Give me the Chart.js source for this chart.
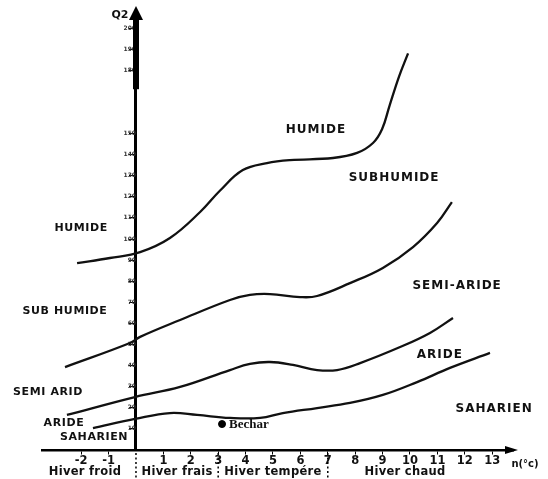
<!DOCTYPE html>
<html lang="fr">
<head>
<meta charset="UTF-8">
<title>Climagramme d'Emberger</title>
<script src="https://cdn.jsdelivr.net/npm/chart.js@4.4.1/dist/chart.umd.min.js"></script>
<style>
  html, body { margin: 0; padding: 0; background: #fff; }
  #wrap { width: 548px; height: 479px; position: relative; }
</style>
</head>
<body>
<div id="wrap"><canvas id="canvas"></canvas></div>
<script>
// limites des etages bioclimatiques : m (°C) -> Q2
const humideM = [-2.15, -0.95, 0.15, 1.24, 2.34, 3.07, 3.9, 4.78, 5.62, 7.19, 8.07, 8.65, 8.98, 9.25, 9.6, 9.93];
const humideQ = [88.6, 91, 93.8, 100.5, 112.8, 123, 132.7, 136, 137.4, 138.4, 140.8, 145.5, 152, 163, 177, 188];

const subhumideM = [-2.59, -0.22, 0.15, 1.61, 3.43, 4.16, 4.89, 5.99, 6.61, 7.81, 9.01, 10.11, 10.99, 11.53];
const subhumideQ = [39.3, 50.7, 53.6, 61.6, 71.1, 73.5, 73.9, 72.5, 73, 79.1, 86.3, 96.2, 107.6, 117.5];

const semiarideM = [-2.52, -0.04, 1.61, 3.43, 4.16, 4.89, 5.73, 6.61, 7.34, 8.18, 9.64, 10.73, 11.57];
const semiarideQ = [16.6, 25.1, 29.9, 37.9, 40.8, 41.7, 40.3, 37.9, 37.9, 41.2, 48.8, 55.5, 62.6];

const arideM = [-1.57, -0.04, 1.24, 2.23, 3.43, 4.53, 5.36, 6.61, 7.81, 9.01, 10.26, 11.46, 12.92];
const arideQ = [10.4, 14.7, 17.5, 16.6, 15.2, 15.2, 17.5, 19.9, 22.3, 26.1, 32.2, 38.9, 46];

// station
const stationName = ['Bechar'];
const stationM = [3.14];
const stationQ = [12.3];

// graduations
const xTicks = [-2, -1, 1, 2, 3, 4, 5, 6, 7, 8, 9, 10, 11, 12, 13];
const qTicks = [10, 20, 30, 40, 50, 60, 70, 80, 90, 100, 110, 120, 130, 140, 150, 180, 190, 200];

// noms des etages, places en (m, Q2)
const zoneNames = ['HUMIDE', 'SUBHUMIDE', 'SEMI-ARIDE', 'ARIDE', 'SAHARIEN'];
const zoneM = [6.57, 9.42, 11.72, 11.09, 13.07];
const zoneQ = [151.7, 128.9, 77.7, 45, 19.4];

const sideNames = ['HUMIDE', 'SUB HUMIDE', 'SEMI ARID', 'ARIDE', 'SAHARIEN'];
const sideM = [-2.0, -2.59, -3.21, -2.63, -1.53];
const sideQ = [105.2, 65.9, 27.5, 12.8, 6.2];

const winterNames = ['Hiver froid', 'Hiver frais', 'Hiver tempére', 'Hiver chaud'];
const winterM = [-1.86, 1.5, 5.0, 9.82];
const winterLimits = [0, 3, 7];

function pts(xs, ys) {
    return xs.map((v, i) => ({ x: v, y: ys[i] }));
}

function curve(xs, ys) {
    return {
        type: 'line',
        data: pts(xs, ys),
        borderColor: '#111',
        borderWidth: 2.3,
        pointRadius: 0,
        fill: false,
        tension: 0.4
    };
}

const decor = {
    id: 'decor',
    afterDraw(chart) {
        const ctx = chart.ctx;
        const xs = chart.scales.x, ys = chart.scales.y;
        const x0 = xs.getPixelForValue(0);
        const y0 = ys.getPixelForValue(0);
        const top = chart.chartArea.top;
        const right = chart.chartArea.right;
        ctx.save();
        ctx.fillStyle = '#000';
        ctx.strokeStyle = '#000';

        // partie epaisse de l'axe Q2
        ctx.lineWidth = 6;
        ctx.beginPath();
        ctx.moveTo(x0, top + 4);
        ctx.lineTo(x0, ys.getPixelForValue(171));
        ctx.stroke();

        // fleches
        ctx.beginPath();
        ctx.moveTo(x0, top - 6);
        ctx.lineTo(x0 - 7, top + 8);
        ctx.lineTo(x0 + 7, top + 8);
        ctx.closePath();
        ctx.fill();
        ctx.beginPath();
        ctx.moveTo(right + 5, y0);
        ctx.lineTo(right - 8, y0 - 4);
        ctx.lineTo(right - 8, y0 + 4);
        ctx.closePath();
        ctx.fill();

        // separations des types d'hiver
        ctx.lineWidth = 1.5;
        ctx.setLineDash([2, 2.5]);
        winterLimits.forEach(v => {
            const px = xs.getPixelForValue(v);
            ctx.beginPath();
            ctx.moveTo(px, y0 + 3);
            ctx.lineTo(px, chart.height);
            ctx.stroke();
        });
        ctx.setLineDash([]);

        ctx.fillStyle = '#111';
        ctx.textAlign = 'center';
        ctx.textBaseline = 'middle';
        ctx.letterSpacing = '1px';
        ctx.font = 'bold 12px "DejaVu Sans"';
        zoneNames.forEach((t, i) => {
            ctx.fillText(t, xs.getPixelForValue(zoneM[i]), ys.getPixelForValue(zoneQ[i]));
        });
        ctx.font = 'bold 11px "DejaVu Sans"';
        ctx.letterSpacing = '0.6px';
        sideNames.forEach((t, i) => {
            ctx.fillText(t, xs.getPixelForValue(sideM[i]), ys.getPixelForValue(sideQ[i]));
        });
        ctx.font = 'bold 11.5px "DejaVu Sans"';
        ctx.letterSpacing = '0.3px';
        winterNames.forEach((t, i) => {
            ctx.fillText(t, xs.getPixelForValue(winterM[i]), y0 + 22);
        });
        ctx.letterSpacing = '0px';
        ctx.font = 'bold 11px "DejaVu Sans"';
        ctx.fillText('Q2', x0 - 16, top + 3);
        ctx.font = 'bold 10px "DejaVu Sans"';
        ctx.fillText('n(°c)', right + 12, y0 + 14);

        ctx.textAlign = 'left';
        ctx.font = 'bold 13px "Liberation Serif"';
        stationName.forEach((t, i) => {
            ctx.fillText(t, xs.getPixelForValue(stationM[i]) + 7, ys.getPixelForValue(stationQ[i]) + 1);
        });
        ctx.restore();
    }
};

const ctx = document.getElementById('canvas').getContext('2d');
const chart = new Chart(ctx, {
    type: 'scatter',
    data: {
        datasets: [
            curve(humideM, humideQ),
            curve(subhumideM, subhumideQ),
            curve(semiarideM, semiarideQ),
            curve(arideM, arideQ),
            {
                type: 'scatter',
                data: pts(stationM, stationQ),
                backgroundColor: '#000',
                borderColor: '#000',
                pointRadius: 3.5
            }
        ]
    },
    options: {
        responsive: true,
        maintainAspectRatio: false,
        animation: false,
        layout: { padding: { left: 42, right: 35, top: 12, bottom: 29 } },
        plugins: { legend: { display: false }, tooltip: { enabled: false } },
        scales: {
            x: {
                type: 'linear',
                position: { y: 0 },
                min: -3.43,
                max: 13.76,
                afterBuildTicks: s => { s.ticks = xTicks.map(v => ({ value: v })); },
                ticks: {
                    color: '#111',
                    padding: 1,
                    font: { family: 'DejaVu Sans', size: 11.5, weight: 'bold' }
                },
                grid: { drawOnChartArea: false, tickLength: 3, color: '#000' },
                border: { color: '#000', width: 2.5 }
            },
            y: {
                type: 'linear',
                position: { x: 0 },
                min: 0,
                max: 207.6,
                afterBuildTicks: s => { s.ticks = qTicks.map(v => ({ value: v })); },
                ticks: {
                    color: '#333',
                    padding: 1,
                    font: { family: 'DejaVu Sans', size: 6, weight: 'bold' }
                },
                grid: { drawOnChartArea: false, tickLength: 5, color: '#000' },
                border: { color: '#000', width: 3 }
            }
        }
    },
    plugins: [decor]
});
</script>
</body>
</html>
